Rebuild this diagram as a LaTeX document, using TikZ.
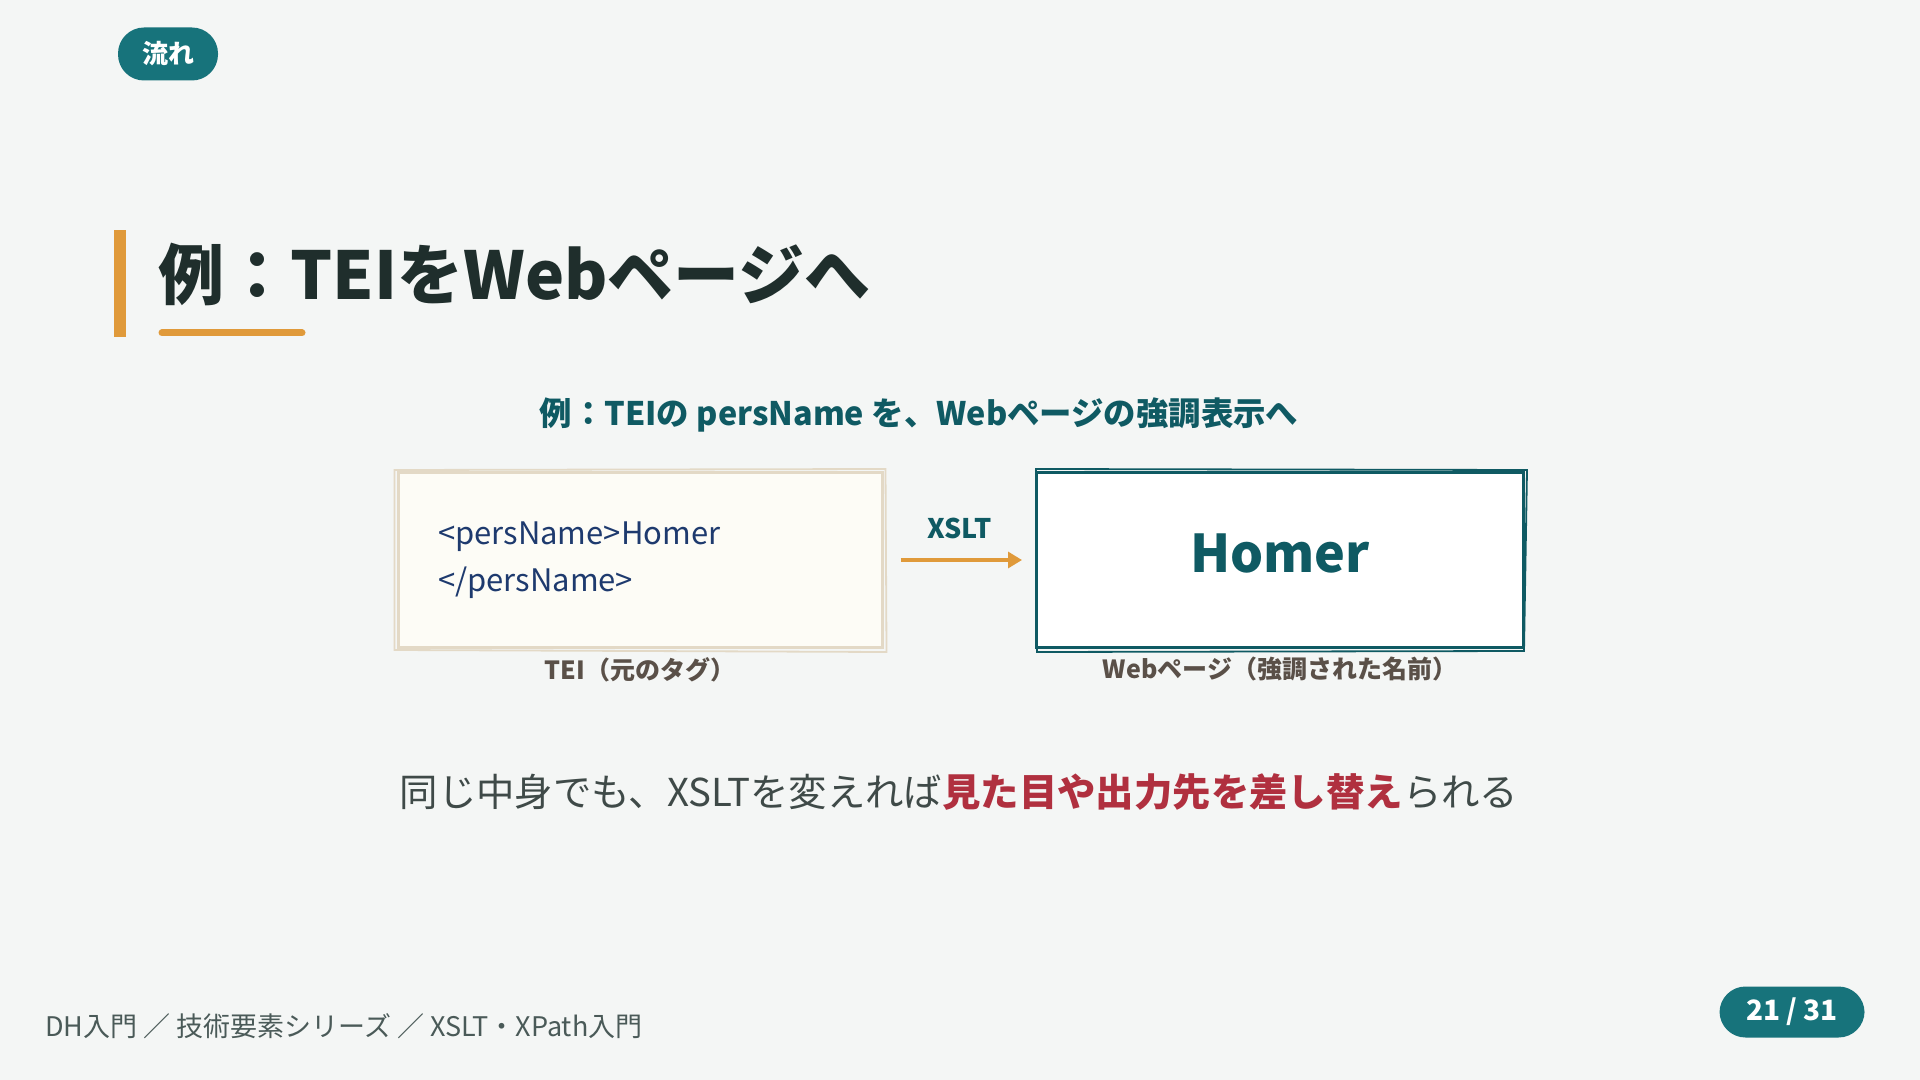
\documentclass[tikz,border=0pt]{standalone}
\usepackage{fontspec}
\setmainfont{Noto Sans CJK JP}
\usetikzlibrary{arrows.meta,positioning,calc}
\definecolor{bgPage}{HTML}{F4F6F5}
\definecolor{tealBadge}{HTML}{17737B}
\definecolor{tealDark}{HTML}{0F5A63}
\definecolor{orangeAccent}{HTML}{E09A3A}
\definecolor{inkTitle}{HTML}{1F2E2C}
\definecolor{creamFill}{HTML}{FDFCF6}
\definecolor{beigeEdge}{HTML}{E3D9C6}
\definecolor{navyCode}{HTML}{1E3A6E}
\definecolor{brownLabel}{HTML}{5A5048}
\definecolor{grayText}{HTML}{3F4A48}
\definecolor{redEmph}{HTML}{B0303F}
\definecolor{footGray}{HTML}{4A5A58}

\begin{document}
\begin{tikzpicture}[
    x=0.5pt, y=-0.5pt,
    pill/.style={
      rounded corners=13pt, fill=tealBadge, text=white, inner sep=0pt,
      font=\fontsize{13pt}{15pt}\selectfont\bfseries
    },
    card/.style={
      rectangle, minimum height=87.5pt, inner sep=0pt, line width=1.5pt
    },
    caption/.style={
      text=brownLabel, inner sep=0pt, font=\fontsize{12.5pt}{14pt}\selectfont\bfseries
    },
    flowarr/.style={-{Triangle[length=7pt,width=8pt]}, draw=orangeAccent, line width=1.6pt}
  ]
  \fill[bgPage] (0,0) rectangle (1920,1080);
  \useasboundingbox (0,0) rectangle (1920,1080);

  % section badge and title
  \node[pill, minimum width=50pt, minimum height=26.5pt] (secBadge) at (168,54) {流れ};
  \fill[orangeAccent] (114,230) rectangle (126,337);
  \node[anchor=west, inner sep=0pt, text=inkTitle, font=\fontsize{33pt}{40pt}\selectfont\bfseries]
    (title) at (158,274) {例：TEIをWebページへ};
  \draw[orangeAccent, line width=3.5pt, line cap=round] (162,333) -- (302,333);

  \node[text=tealDark, inner sep=0pt, font=\fontsize{16.2pt}{20pt}\selectfont\bfseries]
    (subTitle) at (919,415) {例：TEIの persName を、Webページの強調表示へ};

  % the two cards
  \node[card, fill=creamFill, draw=beigeEdge, minimum width=242pt, text width=202pt,
        align=left, text=navyCode, font=\fontsize{15.5pt}{23.5pt}\selectfont]
    (teiBox) at (640,560) {<persName>Homer\\</persName>};
  \node[card, fill=white, draw=tealDark, minimum width=243.5pt, text=tealDark,
        font=\fontsize{26pt}{30pt}\selectfont\bfseries]
    (webBox) at (1280,560) {\raisebox{6.5pt}{Homer}};

  % rough second strokes
  \draw[beigeEdge, line width=0.9pt]
    ([shift={(-2,-1)}]teiBox.north west) -- ([shift={(2,-2)}]teiBox.north east)
    -- ([shift={(3,3)}]teiBox.south east) -- ([shift={(-2,1)}]teiBox.south west) -- cycle;
  \draw[tealDark, line width=0.9pt]
    ([shift={(1,-2)}]webBox.north west) -- ([shift={(2,-1)}]webBox.north east)
    -- ([shift={(-1,2)}]webBox.south east) -- ([shift={(2,3)}]webBox.south west) -- cycle;

  \node[caption, below=4pt of teiBox] (teiCap) {TEI（元のタグ）};
  \node[caption, below=4pt of webBox] (webCap) {Webページ（強調された名前）};

  \draw[flowarr, shorten <=8.5pt, shorten >=6.5pt] (teiBox.east) -- (webBox.west)
    node[midway, above=10pt, inner sep=0pt, text=tealDark,
         font=\fontsize{13.5pt}{16pt}\selectfont\bfseries] (xsltLbl) {XSLT};

  \node[inner sep=0pt, text=grayText, font=\fontsize{19.2pt}{22pt}\selectfont]
    (message) at (959,792) {同じ中身でも、XSLTを変えれば{\bfseries\color{redEmph}見た目や出力先を差し替え}られる};

  % footer
  \node[anchor=west, inner sep=0pt, text=footGray, font=\fontsize{13.5pt}{15pt}\selectfont]
    (footer) at (45,1026) {DH入門 ／ 技術要素シリーズ ／ XSLT・XPath入門};
  \node[pill, minimum width=72.5pt, minimum height=25.5pt, font=\fontsize{14pt}{16pt}\selectfont\bfseries]
    (pageNo) at (1792,1012) {21 / 31};
\end{tikzpicture}
\end{document}
